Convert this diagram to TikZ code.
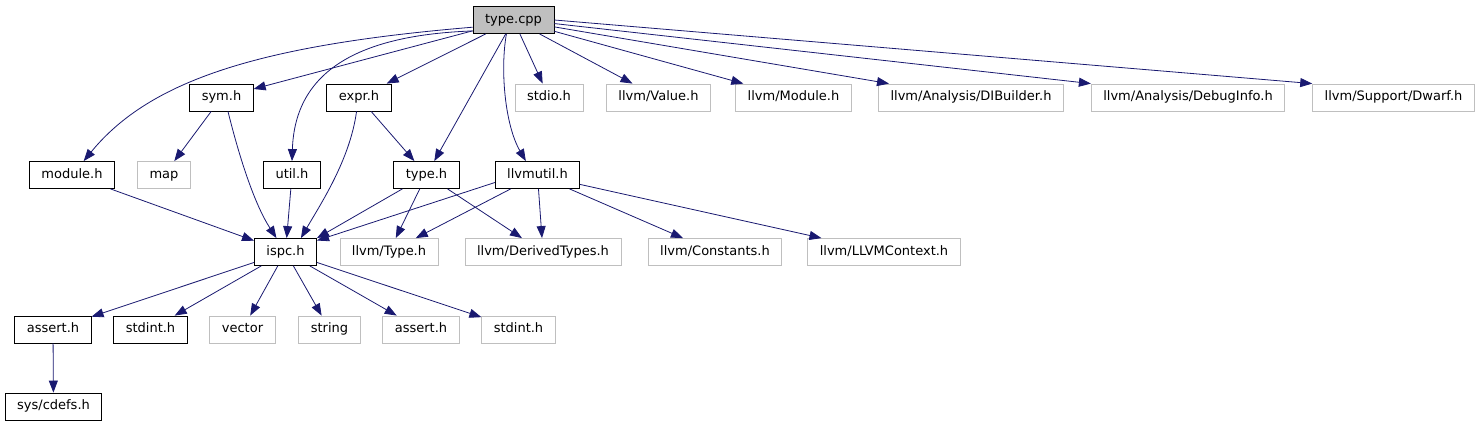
\documentclass[tikz,border=0pt]{standalone}
\usepackage{fontspec}
\setmainfont{DejaVu Sans}
\usetikzlibrary{arrows.meta}
\definecolor{edgeblue}{HTML}{191970}
\definecolor{boxgray}{HTML}{BFBFBF}
\tikzset{
  file/.style={draw=black, line width=0.8pt, minimum height=27pt, inner xsep=12pt, inner ysep=0pt,
    text height=9.5pt, text depth=2.5pt, font=\fontsize{13}{15}\selectfont},
  extfile/.style={file, draw=boxgray},
  mainfile/.style={file, fill=boxgray},
  dep/.style={draw=edgeblue, line width=0.8pt, -{Triangle[length=12pt,width=9pt]}}
}
\begin{document}
\begin{tikzpicture}[x=1pt,y=-1pt]
  \useasboundingbox (0,0) rectangle (1481,427);
  % top
  \node[mainfile] (tcpp) at (513.5,20) {type.cpp};
  % second row
  \node[file] (symh) at (221.5,97.5) {sym.h};
  \node[file] (exprh) at (359,97.5) {expr.h};
  \node[extfile] (stdioh) at (549,97.5) {stdio.h};
  \node[extfile] (valueh) at (658.5,97.5) {llvm/Value.h};
  \node[extfile] (moduleh) at (793.5,97.5) {llvm/Module.h};
  \node[extfile] (dibuilderh) at (971,97.5) {llvm/Analysis/DIBuilder.h};
  \node[extfile] (debuginfoh) at (1188,97.5) {llvm/Analysis/DebugInfo.h};
  \node[extfile] (dwarfh) at (1393.5,97.5) {llvm/Support/Dwarf.h};
  % third row
  \node[file] (modh) at (72,175) {module.h};
  \node[extfile] (map) at (164,175) {map};
  \node[file] (utilh) at (292,175) {util.h};
  \node[file] (typeh) at (426.5,175) {type.h};
  \node[file] (llvmutilh) at (537.5,175) {llvmutil.h};
  % fourth row
  \node[file] (ispch) at (285.5,252) {ispc.h};
  \node[extfile] (ltypeh) at (389,252) {llvm/Type.h};
  \node[extfile] (derivedh) at (543,252) {llvm/DerivedTypes.h};
  \node[extfile] (constantsh) at (715,252) {llvm/Constants.h};
  \node[extfile] (contexth) at (884,252) {llvm/LLVMContext.h};
  % fifth row
  \node[file] (asserth) at (53,329.5) {assert.h};
  \node[file] (stdinth) at (150.5,329.5) {stdint.h};
  \node[extfile] (vector) at (242.5,329.5) {vector};
  \node[extfile] (string) at (329.5,329.5) {string};
  \node[extfile] (sysasserth) at (421,329.5) {assert.h};
  \node[extfile] (sysstdinth) at (518.5,329.5) {stdint.h};
  \node[file] (cdefsh) at (53.5,406.5) {sys/cdefs.h};

  % type.cpp
  \draw[dep] (tcpp.190) .. controls (260,45) and (150,80) .. (modh.50);
  \draw[dep] (tcpp) -- (symh);
  \draw[dep] (tcpp.195) .. controls (360,35) and (295,70) .. (utilh.north);
  \draw[dep] (tcpp) -- (exprh);
  \draw[dep] (tcpp) -- (typeh);
  \draw[dep] (tcpp.243) .. controls (500,70) and (505,125) .. (llvmutilh.130);
  \draw[dep] (tcpp) -- (stdioh);
  \draw[dep] (tcpp) -- (valueh);
  \draw[dep] (tcpp) -- (moduleh);
  \draw[dep] (tcpp) -- (dibuilderh);
  \draw[dep] (tcpp.-5) -- (debuginfoh.north west);
  \draw[dep] (tcpp.east) -- (dwarfh.north west);
  % sym.h, expr.h
  \draw[dep] (symh) -- (map);
  \draw[dep] (symh.-65) .. controls (240,160) and (255,205) .. (ispch.123);
  \draw[dep] (exprh.-100) .. controls (350,160) and (320,205) .. (ispch.42);
  \draw[dep] (exprh) -- (typeh);
  % third row
  \draw[dep] (modh) -- (ispch);
  \draw[dep] (utilh) -- (ispch);
  \draw[dep] (typeh) -- (ispch.north east);
  \draw[dep] (typeh) -- (ltypeh);
  \draw[dep] (typeh) -- (derivedh);
  \draw[dep] (llvmutilh.190) -- (ispch.20);
  \draw[dep] (llvmutilh) -- (ltypeh);
  \draw[dep] (llvmutilh) -- (derivedh);
  \draw[dep] (llvmutilh) -- (constantsh);
  \draw[dep] (llvmutilh) -- (contexth);
  % ispc.h
  \draw[dep] (ispch) -- (asserth);
  \draw[dep] (ispch) -- (stdinth);
  \draw[dep] (ispch) -- (vector);
  \draw[dep] (ispch) -- (string);
  \draw[dep] (ispch) -- (sysasserth);
  \draw[dep] (ispch) -- (sysstdinth);
  \draw[dep] (asserth) -- (cdefsh);
\end{tikzpicture}
\end{document}
